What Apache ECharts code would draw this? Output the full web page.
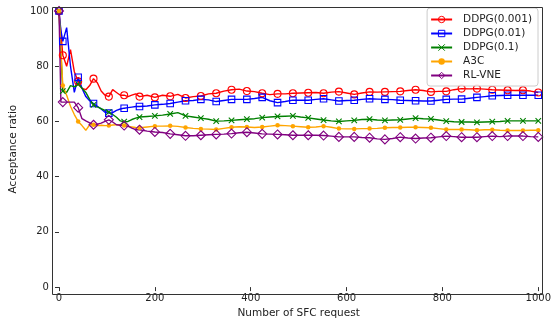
<!DOCTYPE html>
<html>
<head>
<meta charset="utf-8">
<script src="https://cdn.jsdelivr.net/npm/echarts@6/dist/echarts.min.js"></script>
<style>
html,body{margin:0;padding:0;background:#fff}
#chart{width:554px;height:324px}
</style>
</head>
<body>
<div id="chart"></div>
<script>
// x positions (number of SFC requests) - fine steps at the start, coarser later
var xs = [0,4,8,16,24,32,40,48,56,64,72,80,88,96,104,112,120,128,136,144,152,160,168,
  184,200,216,232,248,264,280,296,312,328,344,360,376,392,408,424,440,456,472,488,504,520,536,552,
  568,584,600,616,632,648,664,680,696,712,728,744,760,776,792,808,824,840,856,872,888,904,920,936,952,968,984,1000];

var ddpg001 = [100,92,84,80,86,78,74.5,72,71.5,73,75.5,74,71,69.5,69,71.5,70.5,69.5,69.5,69,69.5,70,69,
  69.5,68.7,69.5,69.1,69.8,68.5,69,69.2,70,70.2,71,71.5,71.7,71,70.8,70.2,69.7,70,70,70.2,70.3,70.4,70.5,70.2,
  70.6,70.8,70.3,69.8,70.3,70.7,70.6,70.7,70.8,70.9,71.2,71.5,71.2,70.7,70.9,70.9,71.5,71.9,71.8,71.9,71.7,71.5,71.4,71.3,71.2,71.3,71,70.5];
var ddpg01 = [100,93,89,94,80,70.5,76,72,69,67.5,66.5,65.5,64.5,63.3,63,63.2,64,64.5,64.8,65,65.2,65.4,65.4,
  65.6,66,66.2,66.5,67,67.5,67.6,68,67.8,67.2,67.6,68,68,68,68.3,68.7,67.5,66.8,67.2,67.7,67.7,67.7,68,68.2,
  67.8,67.4,67.6,67.7,68,68.2,68.1,68,67.9,67.7,67.6,67.5,67.4,67.4,67.7,68,68.1,68.1,68.4,68.7,69,69.3,69.4,69.5,69.5,69.5,69.5,69.5];
var ddpg1 = [100,85,71,70.5,73,72.5,73.5,72,70.5,68,66,65.3,64.6,64,63.4,62.5,61.5,60.2,59.9,60,60.7,61.2,61.6,
  61.8,62,62.3,62.7,63.2,62,61.6,61.2,60.8,60.1,60.2,60.4,60.6,60.8,61,61.4,61.6,61.8,61.9,62,61.6,61.3,60.9,60.5,
  60.2,60,60.2,60.4,60.7,60.8,60.5,60.4,60.5,60.6,60.9,61.2,61,60.9,60.5,60.1,59.9,59.8,59.8,59.7,59.8,59.9,60,60.2,60.2,60.2,60.2,60.2];
var a3c = [100,86,73,69.5,65.5,62.5,60,58.5,56.8,58.8,58.8,58.5,58.6,58.5,58.5,58.7,58.8,58.8,58.5,58.2,58,57.8,57.7,
  58,58.3,58.3,58.4,58.2,57.8,57.5,57.3,57.2,57.1,57.5,57.9,58.1,58,57.8,58,58.3,58.6,58.5,58.3,58.1,57.9,58,58.3,
  57.9,57.4,57.3,57.3,57.4,57.4,57.5,57.7,57.8,57.8,57.9,57.9,57.8,57.7,57.4,57.1,57.1,57.1,57,56.8,57,57,56.8,56.7,56.7,56.7,56.8,56.8];
var rlvne = [100,67,67,67,67,67,65,61,60.2,59.5,58.8,59,59.4,60,60.6,59.8,58.8,58.6,58.5,58.3,57.6,57,57,
  56.5,56.2,56,55.5,55.2,54.8,54.8,55,55.2,55.3,55.4,55.6,55.9,56.1,55.8,55.5,55.4,55.3,55.2,55,55,55,55,54.9,
  54.7,54.4,54.4,54.4,54.2,54.1,53.7,53.5,53.8,54.3,54,53.8,54,54.1,54.4,54.7,54.5,54.3,54.3,54.3,54.5,54.7,54.5,54.7,54.7,54.7,54.5,54.4];

var xTicks = [0,200,400,600,800,1000];
var yTicks = [0,20,40,60,80,100];

var font = 'DejaVu Sans';
var txt = '#222';

// markers only every 32 requests (plus the first point), like markevery
function isMark(x) {
    return x === 0 || (x - 8) % 32 === 0;
}

function makeSeries(name, ys, color, symbol, size, hollow) {
    return {
        type: 'line',
        name: name,
        data: xs.map(function (x, i) {
            if (isMark(x)) return [x, ys[i]];
            return { value: [x, ys[i]], symbol: 'none' };
        }),
        symbol: symbol,
        symbolSize: size,
        showAllSymbol: true,
        animation: false,
        lineStyle: { color: color, width: 1.4 },
        itemStyle: hollow
            ? { color: 'rgba(255,255,255,0)', borderColor: color, borderWidth: 1.1 }
            : { color: color, borderWidth: 0 },
        emphasis: { disabled: true }
    };
}

var chart = echarts.init(document.getElementById('chart'));
var option = {
    backgroundColor: '#fff',
    animation: false,
    grid: { left: 54, right: 13, top: 11, bottom: 32 },
    graphic: [{
        type: 'rect',
        silent: true,
        z: 100,
        shape: { x: 52.5, y: 7.5, width: 490, height: 287 },
        style: { fill: 'none', stroke: '#333', lineWidth: 1 }
    }],
    legend: {
        orient: 'vertical',
        right: 16,
        top: 8,
        itemWidth: 21,
        itemHeight: 8,
        itemGap: 3,
        padding: [6, 6, 5, 3],
        borderColor: '#ccc',
        borderWidth: 1,
        borderRadius: 3,
        backgroundColor: 'rgba(255,255,255,0.85)',
        itemStyle: { borderWidth: 1 },
        textStyle: { fontFamily: font, fontSize: 10.5, color: txt, lineHeight: 10, padding: [0, 0, 0, 6] },
        data: ['DDPG(0.001)', 'DDPG(0.01)', 'DDPG(0.1)', 'A3C', 'RL-VNE']
    },
    xAxis: {
        type: 'value',
        min: xTicks[0],
        max: xTicks[xTicks.length - 1],
        interval: 200,
        offset: 2,
        axisLine: { show: false },
        axisTick: { length: 4, lineStyle: { color: '#333' } },
        axisLabel: { fontFamily: font, fontSize: 10, color: txt, margin: 4,
            formatter: function (v) { return String(v); } },
        splitLine: { show: false },
        name: 'Number of SFC request',
        nameLocation: 'middle',
        nameGap: 13,
        nameTextStyle: { fontFamily: font, fontSize: 10.5, color: txt }
    },
    yAxis: {
        type: 'value',
        min: yTicks[0],
        max: yTicks[yTicks.length - 1],
        interval: 20,
        offset: 2,
        axisLine: { show: false },
        axisTick: { length: 4, lineStyle: { color: '#333' } },
        axisLabel: { fontFamily: font, fontSize: 10, color: txt, margin: 8 },
        splitLine: { show: false },
        name: 'Acceptance ratio',
        nameLocation: 'middle',
        nameGap: 32,
        nameTextStyle: { fontFamily: font, fontSize: 10.5, color: txt }
    },
    series: [
        makeSeries('DDPG(0.001)', ddpg001, '#ff0000', 'circle', 7, true),
        makeSeries('DDPG(0.01)', ddpg01, '#0000ff', 'rect', 6.5, true),
        makeSeries('DDPG(0.1)', ddpg1, '#008000', 'path://M0,0L10,10M0,10L10,0', 5.5, true),
        makeSeries('A3C', a3c, '#ffa500', 'circle', 4.5, false),
        makeSeries('RL-VNE', rlvne, '#800080', 'diamond', 9, true)
    ]
};
chart.setOption(option);
</script>
</body>
</html>
